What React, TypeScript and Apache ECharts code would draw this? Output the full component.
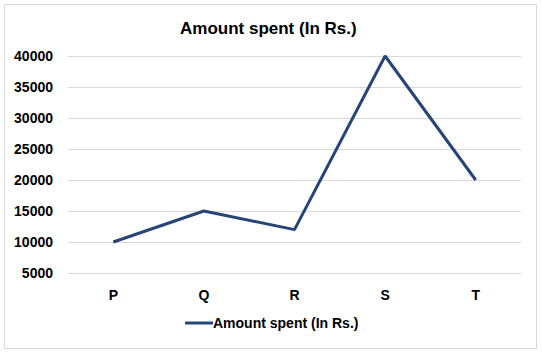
import React, { useEffect, useRef } from "react";
import * as echarts from "echarts";

const categories = ["P", "Q", "R", "S", "T"];
const amountSpent = [10000, 15000, 12000, 40000, 20000];
const seriesName = "Amount spent (In Rs.)";
const titleText = "Amount spent (In Rs.)";

export default function App() {
  const ref = useRef<HTMLDivElement>(null);
  useEffect(() => {
    if (!ref.current) return;
    const chart = echarts.init(ref.current, null, { renderer: "svg" });
    const font = "Liberation Sans";
    chart.setOption({
      animation: false,
      backgroundColor: "#ffffff",
      graphic: [
        {
          type: "rect",
          shape: { x: 4.5, y: 4.5, width: 532, height: 344 },
          style: { fill: "none", stroke: "#d9d9d9", lineWidth: 1 },
          silent: true,
        },
      ],
      title: {
        text: titleText,
        left: 175,
        top: 15,
        textStyle: { fontFamily: font, fontSize: 17, fontWeight: "bold", color: "#000" },
      },
      legend: {
        bottom: 18,
        left: 180,
        itemWidth: 28,
        itemHeight: 3,
        itemGap: 10,
        icon: "rect",
        data: [seriesName],
        textStyle: { fontFamily: font, fontSize: 14, fontWeight: "bold", color: "#000", padding: [0, 0, 0, -5] },
      },
      grid: { left: 68, right: 21, top: 56, bottom: 80, containLabel: false },
      xAxis: {
        type: "category",
        data: categories,
        boundaryGap: true,
        axisLine: { show: true, lineStyle: { color: "#d9d9d9", width: 1 } },
        axisTick: { show: false },
        axisLabel: { fontFamily: font, fontSize: 14, fontWeight: "bold", color: "#000", margin: 15 },
      },
      yAxis: {
        type: "value",
        min: 5000,
        max: 40000,
        interval: 5000,
        axisLine: { show: false },
        axisTick: { show: false },
        splitLine: { lineStyle: { color: "#d9d9d9", width: 1 } },
        axisLabel: {
          fontFamily: font,
          fontSize: 14,
          fontWeight: "bold",
          color: "#000",
          margin: 15,
          formatter: (v: number) => String(v),
        },
      },
      series: [
        {
          name: seriesName,
          type: "line",
          data: amountSpent,
          symbol: "none",
          lineStyle: { color: "#264478", width: 3 },
          itemStyle: { color: "#264478" },
        },
      ],
    });
    return () => chart.dispose();
  }, []);
  return (
    <div
      ref={ref}
      style={{ position: "fixed", left: 0, top: 0, width: 542, height: 353 }}
    />
  );
}
